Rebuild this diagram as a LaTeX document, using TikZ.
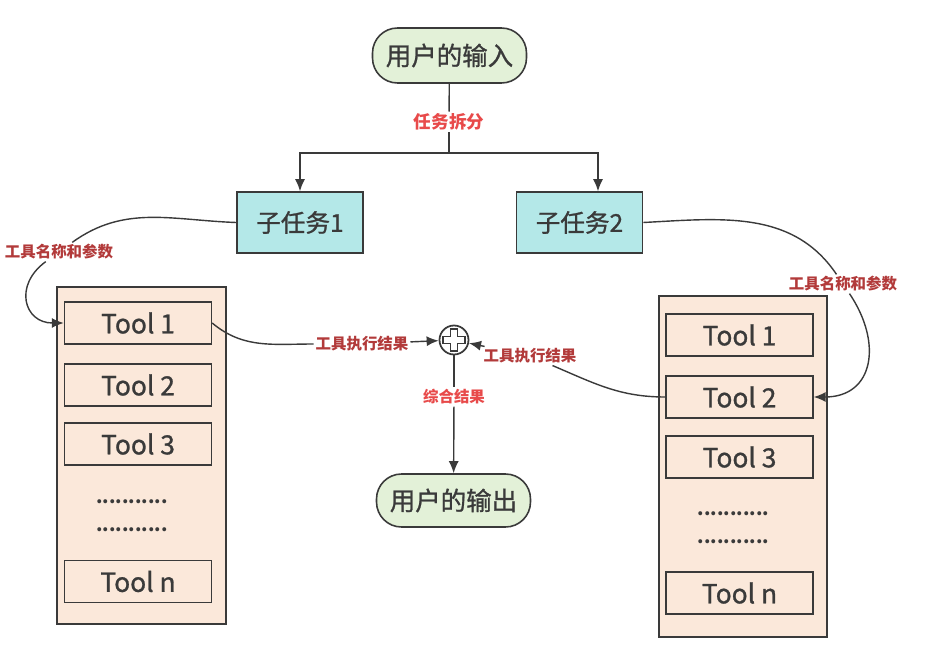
\documentclass[tikz,border=0pt]{standalone}
\usepackage{fontspec}
\setmainfont{Noto Sans CJK SC}
\newfontfamily\medfont{Noto Sans CJK SC}[FakeBold=1.0]
\usetikzlibrary{arrows.meta,positioning,calc}

\definecolor{linegray}{HTML}{3A3A3A}
\definecolor{startgreen}{HTML}{E3F1D8}
\definecolor{taskcyan}{HTML}{B4E8E8}
\definecolor{toolpeach}{HTML}{FBE8DA}
\definecolor{labelred}{HTML}{E84A4A}
\definecolor{labeldark}{HTML}{B23A3A}

\tikzset{
  io/.style={draw=linegray, line width=0.9pt, fill=startgreen, rounded corners=0.5cm,
    minimum width=3.08cm, minimum height=1.1cm, text=linegray, font=\medfont\fontsize{14.5}{16}\selectfont},
  task/.style={draw=linegray, line width=0.9pt, fill=taskcyan, minimum width=2.52cm,
    minimum height=1.22cm, text=linegray, font=\medfont\fontsize{14}{16}\selectfont},
  panel/.style={draw=linegray, line width=0.9pt, fill=toolpeach, minimum width=3.38cm},
  toolbox/.style={draw=linegray, line width=0.8pt, fill=toolpeach, minimum width=2.94cm,
    minimum height=0.84cm, text=linegray, font=\medfont\fontsize{15}{16}\selectfont},
  dotline/.style={text=linegray, inner sep=0pt, font=\fontsize{10.5}{14}\selectfont\bfseries},
  lbl/.style={fill=white, inner sep=1pt, font=\fontsize{8.8}{10}\selectfont\bfseries},
  conn/.style={draw=linegray, line width=0.8pt},
  arr/.style={conn, -{Latex[length=2.4mm,width=2mm]}},
}

\begin{document}
\begin{tikzpicture}[x=0.02cm, y=-0.02cm]
  \useasboundingbox (0,0) rectangle (927,666);

  % top and bottom
  \node[io] (in) at (449.5,55.5) {用户的输入};
  \node[io, minimum height=1.06cm] (out) at (453.5,500.5) {用户的输出};
  \node[task] (s1) at (300,222.5) {子任务1};
  \node[task] (s2) at (579.5,222.5) {子任务2};

  % left tools
  \node[panel, minimum height=6.74cm] (pl) at (141.5,455.5) {};
  \node[toolbox] (l1) at (138,323) {Tool 1};
  \node[toolbox] (l2) at (138,385) {Tool 2};
  \node[toolbox] (l3) at (138,444) {Tool 3};
  \node[dotline] (ld1) at (132,502) {...........};
  \node[dotline] (ld2) at (132,530) {...........};
  \node[toolbox] (ln) at (138,581.5) {Tool n};

  % right tools
  \node[panel, minimum width=3.36cm, minimum height=6.82cm] (pr) at (743,466.5) {};
  \node[toolbox] (r1) at (739.5,335) {Tool 1};
  \node[toolbox] (r2) at (739.5,397) {Tool 2};
  \node[toolbox] (r3) at (739.5,457) {Tool 3};
  \node[dotline] (rd1) at (733.5,514) {...........};
  \node[dotline] (rd2) at (733.5,542) {...........};
  \node[toolbox] (rn) at (739.5,593) {Tool n};

  % sum
  \node[draw=linegray, circle, line width=1pt, minimum size=0.58cm, inner sep=0pt] (sum) at (454,340) {};
  \draw[linegray, line width=0.8pt, shift={(sum.center)}]
    (3.5,11) -- (3.5,3.5) -- (11,3.5) -- (11,-3.5) -- (3.5,-3.5) -- (3.5,-11)
    -- (-3.5,-11) -- (-3.5,-3.5) -- (-11,-3.5) -- (-11,3.5) -- (-3.5,3.5) -- (-3.5,11) -- cycle;

  % labels
  \node[lbl, text=labelred, font=\fontsize{10}{12}\selectfont\bfseries] (split) at (449,122) {任务拆分};
  \node[lbl, text=labeldark] (argl) at (59,252) {工具名称和参数};
  \node[lbl, text=labeldark] (argr) at (843,284) {工具名称和参数};
  \node[lbl, text=labeldark] (resl) at (362,344) {工具执行结果};
  \node[lbl, text=labeldark] (resr) at (530,356) {工具执行结果};
  \node[lbl, text=labelred] (mix) at (454,397) {综合结果};
  \coordinate (fork) at (449,153);

  % connectors
  \draw[conn] (in) -- (split);
  \draw[conn] (split) -- (fork);
  \draw[arr] (fork) -| (s1.north);
  \draw[arr] (fork) -| ($(s2.north)+(18.5,0)$);

  \draw[arr] (s1.west) to[out=178,in=36] (argl) to[out=216,in=180,looseness=1.6] (l1.west);
  \draw[arr] (s2.east) to[out=3,in=124] (argr) to[out=-56,in=0,looseness=1.4] (r2.east);

  \draw[conn] (l1.east) to[out=-40,in=180] (resl);
  \draw[arr] (resl) -- (sum);
  \draw[conn] (r2.west) to[out=180,in=-23] (resr);
  \draw[arr] (resr) -- (sum);

  \draw[conn] (sum) -- (mix);
  \draw[arr] (mix) -- (out);
\end{tikzpicture}
\end{document}
